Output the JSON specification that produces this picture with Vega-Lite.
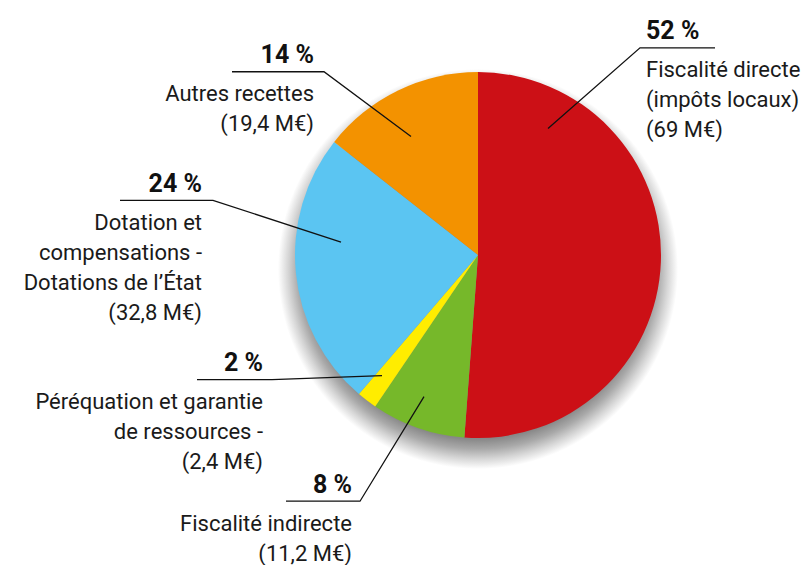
{
  "$schema": "https://vega.github.io/schema/vega-lite/v6.json",
  "width": 810,
  "height": 565,
  "autosize": {"type": "fit", "contains": "padding"},
  "padding": 0,
  "background": "#ffffff",
  "config": {"view": {"stroke": null}},
  "resolve": {"scale": {"theta": "independent"}},
  "datasets": {
    "slices": [
      {"cat": "Fiscalité directe", "value": 69, "ord": 1},
      {"cat": "Fiscalité indirecte", "value": 11.2, "ord": 2},
      {"cat": "Péréquation et garantie de ressources", "value": 2.4, "ord": 3},
      {"cat": "Dotation et compensations", "value": 32.8, "ord": 4},
      {"cat": "Autres recettes", "value": 19.4, "ord": 5}
    ],
    "labels": [
      {"id": "a", "pct": "52 %", "desc": "Fiscalité directe\n(impôts locaux)\n(69 M€)", "side": "right", "lx": 168, "ly": 217},
      {"id": "b", "pct": "14 %", "desc": "Autres recettes\n(19,4 M€)", "side": "left", "lx": -164, "ly": 193},
      {"id": "c", "pct": "24 %", "desc": "Dotation et\ncompensations -\nDotations de l’État\n(32,8 M€)", "side": "left", "lx": -276, "ly": 63},
      {"id": "d", "pct": "2 %", "desc": "Péréquation et garantie\nde ressources -\n(2,4 M€)", "side": "left", "lx": -215, "ly": -116},
      {"id": "e", "pct": "8 %", "desc": "Fiscalité indirecte\n(11,2 M€)", "side": "left", "lx": -126, "ly": -239}
    ],
    "leaders": [
      {"id": "a", "k": 1, "x": 237, "y": 208},
      {"id": "a", "k": 2, "x": 162, "y": 208},
      {"id": "a", "k": 3, "x": 70, "y": 127},
      {"id": "b", "k": 1, "x": -246, "y": 184},
      {"id": "b", "k": 2, "x": -154, "y": 184},
      {"id": "b", "k": 3, "x": -67, "y": 119},
      {"id": "c", "k": 1, "x": -358, "y": 55},
      {"id": "c", "k": 2, "x": -265, "y": 55},
      {"id": "c", "k": 3, "x": -137, "y": 13},
      {"id": "d", "k": 1, "x": -281, "y": -125},
      {"id": "d", "k": 2, "x": -206, "y": -125},
      {"id": "d", "k": 3, "x": -96, "y": -121},
      {"id": "e", "k": 1, "x": -192, "y": -247},
      {"id": "e", "k": 2, "x": -118, "y": -247},
      {"id": "e", "k": 3, "x": -54, "y": -142}
    ],
    "shadow": [{"sx": 0, "sy": -14, "whole": 1}]
  },
  "layer": [
    {
      "data": {"name": "shadow"},
      "mark": {
        "type": "arc", "radius": 200,
        "fill": {
          "gradient": "radial", "x1": 0.5, "y1": 0.5, "r1": 0, "x2": 0.5, "y2": 0.5, "r2": 0.5,
          "stops": [
            {"offset": 0, "color": "#888888"},
            {"offset": 0.85, "color": "#888888"},
            {"offset": 0.9, "color": "#a9a9a9"},
            {"offset": 0.95, "color": "#d6d6d6"},
            {"offset": 1, "color": "#ffffff"}
          ]
        }
      },
      "encoding": {
        "x": {"field": "sx", "type": "quantitative", "scale": {"domain": [-478, 332], "nice": false, "zero": false}, "axis": null},
        "y": {"field": "sy", "type": "quantitative", "scale": {"domain": [-309, 256], "nice": false, "zero": false}, "axis": null},
        "theta": {"field": "whole", "type": "quantitative", "stack": true}
      }
    },
    {
      "data": {"name": "slices"},
      "mark": {"type": "arc", "radius": 183},
      "encoding": {
        "x": {"datum": 0, "type": "quantitative"},
        "y": {"datum": 0, "type": "quantitative"},
        "theta": {"field": "value", "type": "quantitative", "stack": true},
        "order": {"field": "ord", "type": "quantitative"},
        "color": {
          "field": "cat", "type": "nominal", "legend": null,
          "scale": {
            "domain": ["Fiscalité directe", "Fiscalité indirecte", "Péréquation et garantie de ressources", "Dotation et compensations", "Autres recettes"],
            "range": ["#cc1016", "#76b82a", "#ffed00", "#5bc5f2", "#f39200"]
          }
        }
      }
    },
    {
      "data": {"name": "leaders"},
      "mark": {"type": "line", "color": "#111111", "strokeWidth": 1.3},
      "encoding": {
        "x": {"field": "x", "type": "quantitative"},
        "y": {"field": "y", "type": "quantitative"},
        "detail": {"field": "id"},
        "order": {"field": "k", "type": "quantitative"}
      }
    },
    {
      "data": {"name": "labels"},
      "transform": [{"filter": "datum.side === 'left'"}],
      "mark": {"type": "text", "align": "right", "baseline": "alphabetic", "font": "Roboto", "fontWeight": "bold", "fontSize": 25, "color": "#111111"},
      "encoding": {
        "x": {"field": "lx", "type": "quantitative"},
        "y": {"field": "ly", "type": "quantitative"},
        "text": {"field": "pct"}
      }
    },
    {
      "data": {"name": "labels"},
      "transform": [{"filter": "datum.side === 'right'"}],
      "mark": {"type": "text", "align": "left", "baseline": "alphabetic", "font": "Roboto", "fontWeight": "bold", "fontSize": 25, "color": "#111111"},
      "encoding": {
        "x": {"field": "lx", "type": "quantitative"},
        "y": {"field": "ly", "type": "quantitative"},
        "text": {"field": "pct"}
      }
    },
    {
      "data": {"name": "labels"},
      "transform": [{"filter": "datum.side === 'left'"}],
      "mark": {"type": "text", "align": "right", "baseline": "alphabetic", "dy": 38, "lineBreak": "\n", "lineHeight": 30, "font": "Roboto", "fontSize": 22, "color": "#1a1a1a"},
      "encoding": {
        "x": {"field": "lx", "type": "quantitative"},
        "y": {"field": "ly", "type": "quantitative"},
        "text": {"field": "desc"}
      }
    },
    {
      "data": {"name": "labels"},
      "transform": [{"filter": "datum.side === 'right'"}],
      "mark": {"type": "text", "align": "left", "baseline": "alphabetic", "dy": 38, "lineBreak": "\n", "lineHeight": 30, "font": "Roboto", "fontSize": 22, "color": "#1a1a1a"},
      "encoding": {
        "x": {"field": "lx", "type": "quantitative"},
        "y": {"field": "ly", "type": "quantitative"},
        "text": {"field": "desc"}
      }
    }
  ]
}
